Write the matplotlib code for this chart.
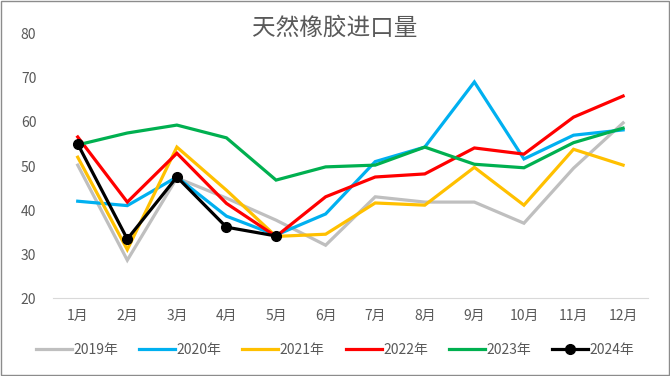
import matplotlib
matplotlib.use("Agg")
import matplotlib.pyplot as plt

plt.rcParams['font.family'] = ['Noto Sans CJK SC', 'DejaVu Sans']

months = ['1月', '2月', '3月', '4月', '5月', '6月', '7月', '8月', '9月', '10月', '11月', '12月']

y2019 = [50.2, 28.6, 47.3, 42.7, 37.7, 32.0, 43.0, 41.8, 41.8, 37.0, 49.5, 59.8]
y2020 = [42.0, 41.0, 47.5, 38.6, 34.3, 39.1, 51.0, 54.3, 69.1, 51.6, 57.0, 58.2]
y2021 = [52.0, 31.0, 54.3, 44.5, 34.0, 34.5, 41.6, 41.1, 49.7, 41.1, 53.8, 50.2]
y2022 = [56.6, 41.8, 52.9, 41.5, 34.0, 43.0, 47.5, 48.2, 54.1, 52.7, 61.1, 65.9]
y2023 = [54.8, 57.5, 59.3, 56.4, 46.8, 49.8, 50.2, 54.3, 50.4, 49.6, 55.3, 58.6]
y2024 = [55.0, 33.4, 47.5, 36.1, 34.1]

series = [
    ('2019年', y2019, '#BFBFBF'),
    ('2020年', y2020, '#00B0F0'),
    ('2021年', y2021, '#FFC000'),
    ('2022年', y2022, '#FF0000'),
    ('2023年', y2023, '#00B050'),
]

txt = '#595959'
fig = plt.figure(figsize=(6.7, 3.76), dpi=100)
ax = fig.add_axes([0.079, 0.2074, 0.888, 0.7022])

x = list(range(len(months)))
for name, vals, col in series:
    ax.plot(x[:len(vals)], vals, color=col, lw=2.3, label=name, solid_joinstyle='miter')
ax.plot(x[:len(y2024)], y2024, color='black', lw=2.3, marker='o', markersize=7, label='2024年')

ax.set_xlim(-0.5, 11.5)
ax.set_ylim(20, 80)
ax.set_yticks(range(20, 81, 10))
ax.set_xticks(x)
ax.set_xticklabels(months)
ax.tick_params(axis='both', length=0, colors=txt, labelsize=10)
ax.tick_params(axis='y', pad=12)
ax.tick_params(axis='x', pad=8)
for s in ['top', 'right', 'left']:
    ax.spines[s].set_visible(False)
ax.spines['bottom'].set_color('#D9D9D9')

fig.text(0.5, 0.925, '天然橡胶进口量', ha='center', va='center', fontsize=17, color=txt)

fig.legend(loc='center', bbox_to_anchor=(0.5, 0.07), ncol=6, frameon=False,
           fontsize=10, labelcolor=txt, handlelength=2.6, handletextpad=0.1,
           columnspacing=1.5)

fig.patches.append(plt.Rectangle((0.001, 0.002), 0.997, 0.995, transform=fig.transFigure,
                                 fill=False, edgecolor='#8C8C8C', lw=1))

fig.savefig('out.png', dpi=100)
